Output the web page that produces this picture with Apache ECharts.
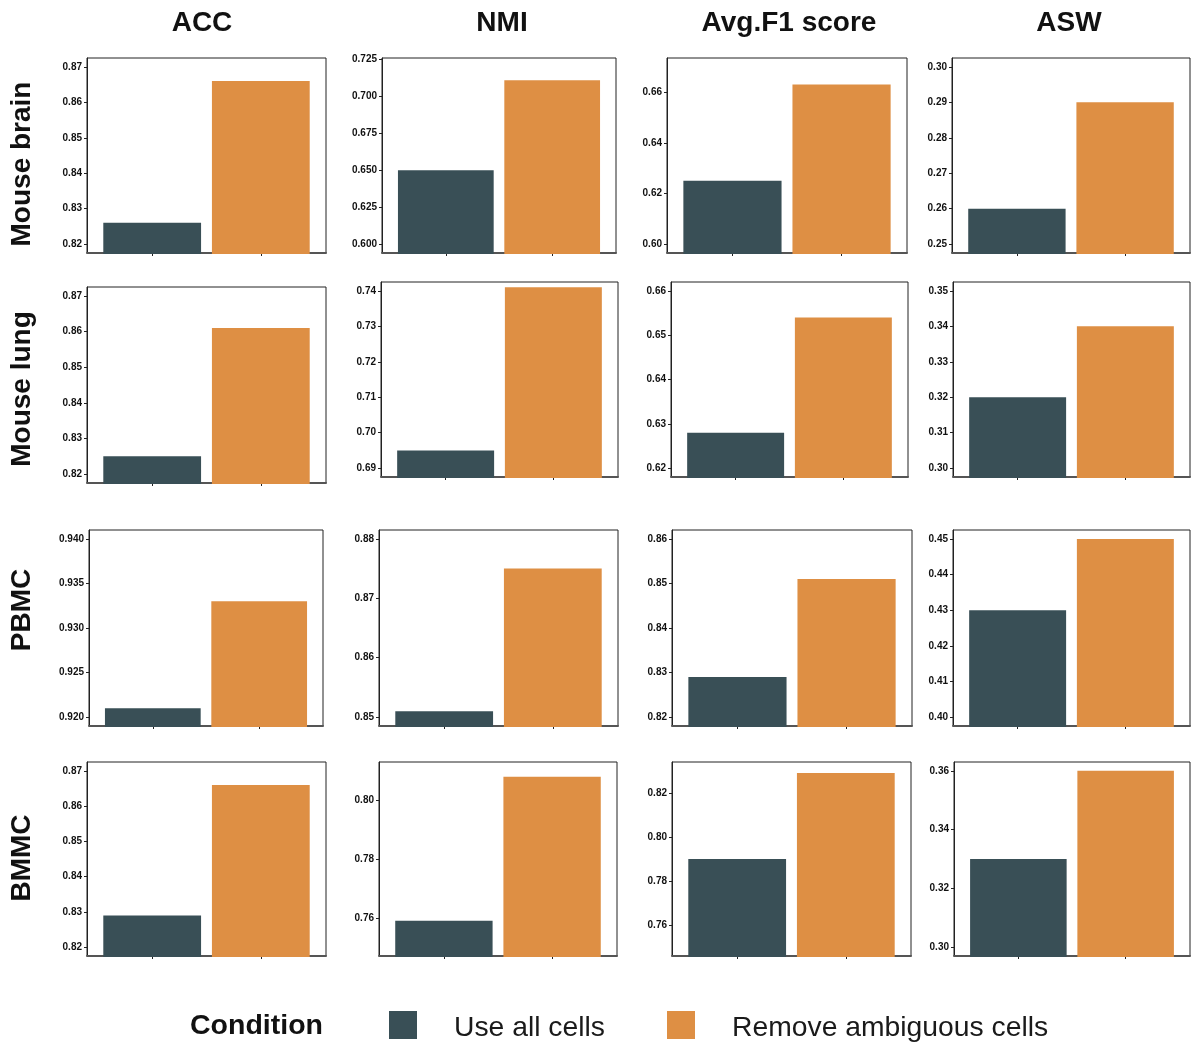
<!DOCTYPE html>
<html>
<head>
<meta charset="utf-8">
<script src="https://cdn.jsdelivr.net/npm/echarts@6/dist/echarts.min.js"></script>
<style>
  html, body { margin: 0; padding: 0; background: #fff; }
  #chart { width: 1192px; height: 1046px; }
</style>
</head>
<body>
<div id="chart"></div>
<script>
// ---------- data ----------
const conditions = ['Use all cells', 'Remove ambiguous cells'];
const metrics = ['ACC', 'NMI', 'Avg.F1 score', 'ASW'];
const datasets = ['Mouse brain', 'Mouse lung', 'PBMC', 'BMMC'];

// values per metric: [Use all cells, Remove ambiguous cells]
const valuesMouseBrain = [[0.826, 0.866], [0.650, 0.711], [0.625, 0.663], [0.260, 0.290]];
const valuesMouseLung  = [[0.825, 0.861], [0.695, 0.741], [0.628, 0.654], [0.320, 0.340]];
const valuesPBMC       = [[0.921, 0.933], [0.851, 0.875], [0.829, 0.851], [0.430, 0.450]];
const valuesBMMC       = [[0.829, 0.866], [0.759, 0.808], [0.790, 0.829], [0.330, 0.360]];

// y-axis limits per metric (before 5% expansion)
const limitsMouseBrain = [[0.82, 0.87], [0.60, 0.72], [0.60, 0.67], [0.25, 0.30]];
const limitsMouseLung  = [[0.82, 0.87], [0.69, 0.74], [0.62, 0.66], [0.30, 0.35]];
const limitsPBMC       = [[0.92, 0.94], [0.85, 0.88], [0.82, 0.86], [0.40, 0.45]];
const limitsBMMC       = [[0.82, 0.87], [0.75, 0.81], [0.75, 0.83], [0.30, 0.36]];

// tick labels per metric
const ticksMouseBrain = [
  ['0.82', '0.83', '0.84', '0.85', '0.86', '0.87'],
  ['0.600', '0.625', '0.650', '0.675', '0.700', '0.725'],
  ['0.60', '0.62', '0.64', '0.66'],
  ['0.25', '0.26', '0.27', '0.28', '0.29', '0.30']
];
const ticksMouseLung = [
  ['0.82', '0.83', '0.84', '0.85', '0.86', '0.87'],
  ['0.69', '0.70', '0.71', '0.72', '0.73', '0.74'],
  ['0.62', '0.63', '0.64', '0.65', '0.66'],
  ['0.30', '0.31', '0.32', '0.33', '0.34', '0.35']
];
const ticksPBMC = [
  ['0.920', '0.925', '0.930', '0.935', '0.940'],
  ['0.85', '0.86', '0.87', '0.88'],
  ['0.82', '0.83', '0.84', '0.85', '0.86'],
  ['0.40', '0.41', '0.42', '0.43', '0.44', '0.45']
];
const ticksBMMC = [
  ['0.82', '0.83', '0.84', '0.85', '0.86', '0.87'],
  ['0.76', '0.78', '0.80'],
  ['0.76', '0.78', '0.80', '0.82'],
  ['0.30', '0.32', '0.34', '0.36']
];

const allValues = [valuesMouseBrain, valuesMouseLung, valuesPBMC, valuesBMMC];
const allLimits = [limitsMouseBrain, limitsMouseLung, limitsPBMC, limitsBMMC];
const allTicks  = [ticksMouseBrain, ticksMouseLung, ticksPBMC, ticksBMMC];

// ---------- layout & style ----------
const panelLayout = [ // [left, top, right, bottom]
  [[87, 58, 326, 253], [382, 58, 616, 253], [667, 58, 907, 253], [952, 58, 1190, 253]],
  [[87, 287, 326, 483], [381, 282, 618, 477], [671, 282, 908, 477], [953, 282, 1190, 477]],
  [[89, 530, 323, 726], [379, 530, 618, 726], [672, 530, 912, 726], [953, 530, 1190, 726]],
  [[87, 762, 326, 956], [379, 762, 617, 956], [672, 762, 911, 956], [954, 762, 1190, 956]]
];
const headerX = [202, 502, 789, 1069];
const rowLabelY = [164, 389, 610, 858];
const colors = ['#394f56', '#de8f44'];
const FONT = '"Liberation Sans", Arial, Helvetica, sans-serif';

const grids = [], xAxes = [], yAxes = [], series = [];
let idx = 0;
for (let r = 0; r < 4; r++) {
  for (let c = 0; c < 4; c++) {
    const [L, T, R, B] = panelLayout[r][c];
    const lim = allLimits[r][c];
    const pad = (lim[1] - lim[0]) * 0.05;
    const yMin = lim[0] - pad, yMax = lim[1] + pad;
    const tickLabels = allTicks[r][c];
    const tickVals = tickLabels.map(Number);
    grids.push({
      left: L, top: T, width: R - L, height: B - T,
      show: true, borderColor: '#222', borderWidth: 1, backgroundColor: '#fff'
    });
    xAxes.push({
      gridIndex: idx, type: 'value', min: 0.4, max: 2.6,
      axisLine: { show: true, onZero: false, lineStyle: { color: '#555', width: 2 } },
      axisTick: { show: true, length: 3, customValues: [1, 2], lineStyle: { color: '#222', width: 1 } },
      axisLabel: { show: false },
      splitLine: { show: false }
    });
    yAxes.push({
      gridIndex: idx, type: 'value', min: yMin, max: yMax,
      axisLine: { show: true, onZero: false, lineStyle: { color: '#222', width: 1 } },
      axisTick: { show: true, length: 3, customValues: tickVals, lineStyle: { color: '#222', width: 1 } },
      axisLabel: {
        show: true, customValues: tickVals, margin: 5,
        fontSize: 10, fontWeight: 'bold', color: '#111', fontFamily: FONT,
        formatter: function (v) {
          let best = tickLabels[0], d = Infinity;
          tickLabels.forEach(t => { const dd = Math.abs(Number(t) - v); if (dd < d) { d = dd; best = t; } });
          return best;
        }
      },
      splitLine: { show: false }
    });
    const vals = allValues[r][c];
    for (let k = 0; k < 2; k++) {
      series.push({
        name: conditions[k],
        type: 'custom',
        xAxisIndex: idx, yAxisIndex: idx,
        itemStyle: { color: colors[k] },
        data: [[k + 1, vals[k]]],
        renderItem: (function (baseVal) {
          return function (params, api) {
            const x = api.value(0), y = api.value(1);
            const p1 = api.coord([x - 0.45, y]);
            const p2 = api.coord([x + 0.45, baseVal]);
            return {
              type: 'rect',
              shape: { x: p1[0], y: p1[1], width: p2[0] - p1[0], height: p2[1] - p1[1] + 1 },
              style: { fill: api.visual('color') }
            };
          };
        })(yMin),
        silent: true
      });
    }
    idx++;
  }
}

const graphics = [];
metrics.forEach((m, i) => {
  graphics.push({
    type: 'text', x: headerX[i], y: 23,
    style: { text: m, fontSize: 28, fontWeight: 'bold', fill: '#111', fontFamily: FONT,
             textAlign: 'center', textVerticalAlign: 'middle' }
  });
});
datasets.forEach((d, i) => {
  graphics.push({
    type: 'text', x: 22, y: rowLabelY[i], rotation: Math.PI / 2,
    style: { text: d, fontSize: 28, fontWeight: 'bold', fill: '#111', fontFamily: FONT,
             textAlign: 'center', textVerticalAlign: 'middle' }
  });
});
graphics.push({
  type: 'text', x: 190, y: 1026,
  style: { text: 'Condition', fontSize: 28.5, fontWeight: 'bold', fill: '#111', fontFamily: FONT,
           textAlign: 'left', textVerticalAlign: 'middle' }
});

function legendFor(name, left) {
  return {
    left: left, top: 1011, orient: 'horizontal',
    data: [name], icon: 'rect', itemWidth: 28, itemHeight: 28,
    selectedMode: false, padding: 0,
    formatter: function (n) { return '{g|}{t|' + n + '}'; },
    textStyle: {
      fontFamily: FONT,
      rich: {
        g: { width: 32 },
        t: { fontSize: 28.3, color: '#1a1a1a', fontFamily: FONT, padding: [6, 0, 0, 0] }
      }
    }
  };
}

const chart = echarts.init(document.getElementById('chart'), null, { renderer: 'canvas' });
chart.setOption({
  backgroundColor: '#fff',
  animation: false,
  grid: grids,
  xAxis: xAxes,
  yAxis: yAxes,
  series: series,
  legend: [legendFor(conditions[0], 389), legendFor(conditions[1], 667)],
  graphic: graphics
});
</script>
</body>
</html>
